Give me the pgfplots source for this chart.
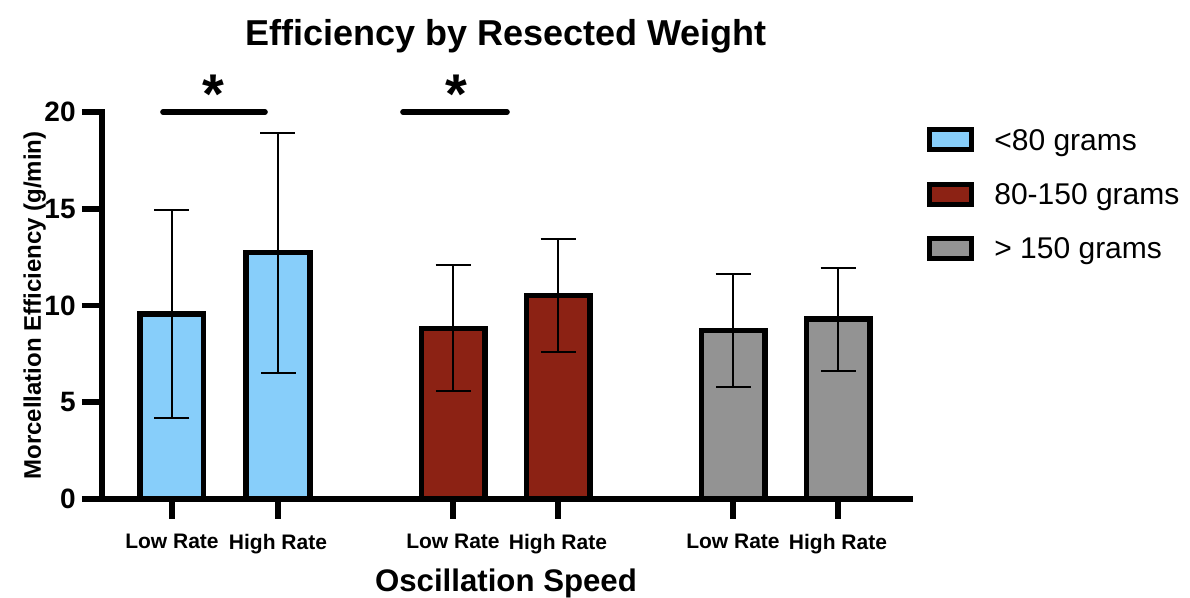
\documentclass[border=0pt]{standalone}
\usepackage{fontspec}
\setmainfont{Liberation Sans}
\usepackage{pgfplots}
\pgfplotsset{compat=1.18}
\definecolor{cA}{RGB}{135,206,250}
\definecolor{cB}{RGB}{140,34,20}
\definecolor{cC}{RGB}{147,147,147}

\begin{document}
\begin{tikzpicture}
\path[use as bounding box] (-51pt,-49.5pt) rectangle (544pt,249.5pt);
\begin{axis}[
  at={(0,0)}, anchor=south west,
  scale only axis, width=404pt, height=193.5pt,
  xmin=0, xmax=8.08, ymin=0, ymax=20,
  clip=false,
  axis x line=bottom, axis y line=left,
  axis line style={-, line width=2.8pt, line cap=rect, black},
  tick align=outside, major tick length=10pt,
  tick style={line width=2.8pt, black},
  ytick={0,5,10,15,20},
  xtick={0.70,1.76,3.51,4.56,6.31,7.36},
  xticklabels={Low Rate,High Rate,Low Rate,High Rate,Low Rate,High Rate},
  /pgf/number format/assume math mode=true,
  yticklabel style={font=\bfseries\fontsize{14}{14}\selectfont, inner sep=3pt},
  xticklabel style={font=\bfseries\fontsize{10.5}{10.5}\selectfont, yshift=-4pt},
  title={Efficiency by Resected Weight},
  every axis title shift=0pt,
  title style={font=\bfseries\fontsize{18}{18}\selectfont, at={(axis description cs:0.5,1.1731)}, anchor=base},
  xlabel={Oscillation Speed},
  xlabel style={font=\bfseries\fontsize{15.6}{15.6}\selectfont, at={(axis description cs:0.5,-0.2403)}, anchor=base},
  ylabel={Morcellation Efficiency (g/min)},
  ylabel style={font=\bfseries\fontsize{12}{12}\selectfont, at={(axis description cs:-0.0755,0.5)}, anchor=base},
  legend cell align=left,
  legend style={at={(axis description cs:1.021,0.961)}, anchor=north west, draw=none, fill=none,
    inner sep=0pt, row sep=14.1pt, font=\fontsize{15}{15}\selectfont,
    nodes={inner sep=0pt},
    /tikz/every odd column/.append style={column sep=10pt}},
]
\addplot[ybar, bar width=0.634, bar shift=0pt, fill=cA, draw=black, line width=2.8pt,
  error bars/.cd, y dir=both, y explicit,
  error bar style={line width=1pt, black},
  error mark options={rotate=90, mark size=8.75pt, line width=1pt, black}]
  table[x=x, y=y, y error=e] {
x y e
0.70 9.55 5.39
1.76 12.73 6.20
};
\addlegendimage{legend image code/.code={\draw[fill=cA, draw=black, line width=2.5pt] (1.25pt,-4.25pt) rectangle (22.25pt,5.75pt);}}
\addplot[ybar, bar width=0.634, bar shift=0pt, fill=cB, draw=black, line width=2.8pt,
  error bars/.cd, y dir=both, y explicit,
  error bar style={line width=1pt, black},
  error mark options={rotate=90, mark size=8.75pt, line width=1pt, black}]
  table[x=x, y=y, y error=e] {
x y e
3.51 8.82 3.25
4.56 10.51 2.93
};
\addlegendimage{legend image code/.code={\draw[fill=cB, draw=black, line width=2.5pt] (1.25pt,-4.25pt) rectangle (22.25pt,5.75pt);}}
\addplot[ybar, bar width=0.634, bar shift=0pt, fill=cC, draw=black, line width=2.8pt,
  error bars/.cd, y dir=both, y explicit,
  error bar style={line width=1pt, black},
  error mark options={rotate=90, mark size=8.75pt, line width=1pt, black}]
  table[x=x, y=y, y error=e] {
x y e
6.31 8.70 2.92
7.36 9.30 2.66
};
\addlegendimage{legend image code/.code={\draw[fill=cC, draw=black, line width=2.5pt] (1.25pt,-4.25pt) rectangle (22.25pt,5.75pt);}}
\legend{,<80 grams,,80-150 grams,,> 150 grams}
\draw[line width=2.8pt, line cap=round] (axis cs:0.61,20) -- (axis cs:1.63,20);
\draw[line width=2.8pt, line cap=round] (axis cs:3.01,20) -- (axis cs:4.05,20);
\node[font=\bfseries\fontsize{28}{28}\selectfont, anchor=base, inner sep=0pt] at ([yshift=-1pt]axis cs:1.11,20) {*};
\node[font=\bfseries\fontsize{28}{28}\selectfont, anchor=base, inner sep=0pt] at ([yshift=-1pt]axis cs:3.54,20) {*};
\end{axis}
\end{tikzpicture}
\end{document}
